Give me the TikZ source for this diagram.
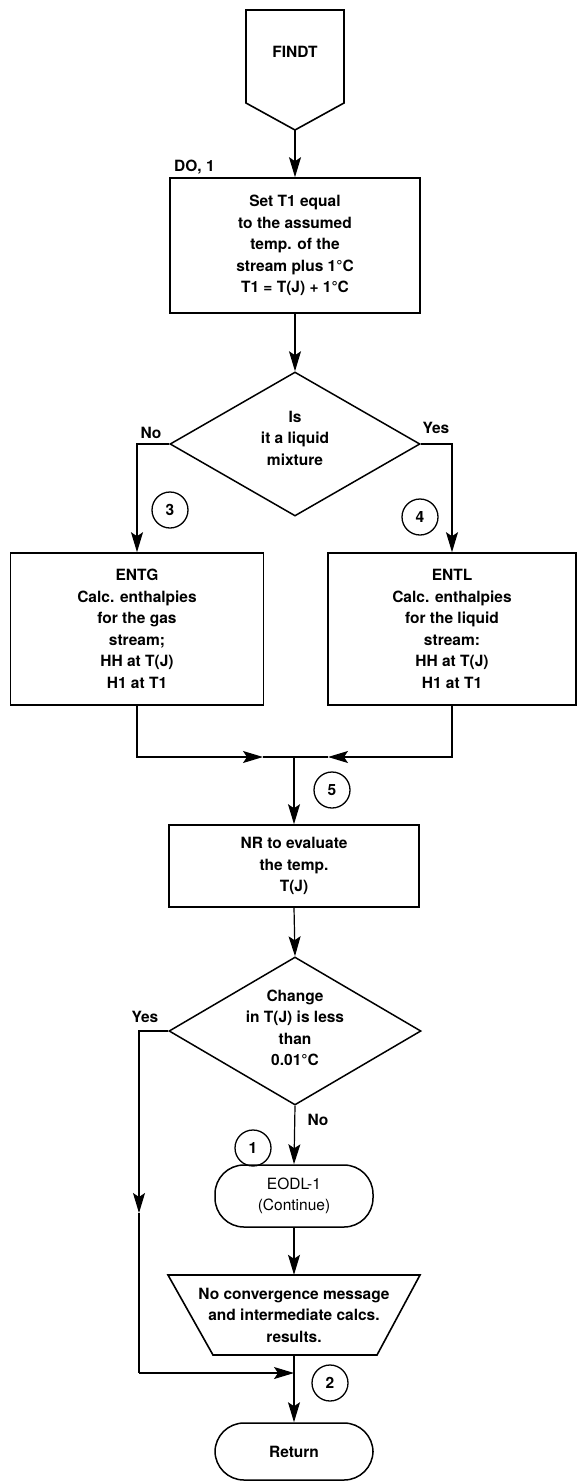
\documentclass[tikz,border=0pt]{standalone}
\usepackage{fontspec}
\setmainfont{TeX Gyre Heros}
\usetikzlibrary{shapes.geometric,arrows.meta}
\begin{document}
\begin{tikzpicture}[x=1pt,y=-1pt,
  every node/.style={font=\fontsize{15.5}{21.5}\selectfont\bfseries, align=center},
  box/.style={draw, line width=1.6pt, inner sep=0pt},
  flow/.style={line width=1.2pt},
  arr/.style={flow, -{Stealth[length=20pt,width=12pt,inset=4pt]}},
  conn/.style={circle, draw, line width=1.3pt, minimum size=36pt, inner sep=0pt},
  term/.style={draw, line width=1.5pt, rounded corners=29pt, minimum width=158pt, inner sep=0pt},
  decision/.style={diamond, draw, line width=1.5pt, inner sep=0pt},
  lbl/.style={inner sep=0pt}
]
\useasboundingbox (0,0) rectangle (576,1482);

% FINDT entry connector
\draw[line width=1.6pt] (246,10) -- (344,10) -- (344,103) -- (295,130) -- (246,103) -- cycle;
\node (findt) at (295,52) {FINDT};
\coordinate (findtip) at (295,130);

\node[lbl, anchor=base west] (do) at (174,172) {DO, 1};

\node[box, minimum width=250pt, minimum height=135pt] (set) at (295,245.5)
  {Set T1 equal\\to the assumed\\temp. of the\\stream plus 1°C\\T1 = T(J) + 1°C};

\node[decision, minimum width=250pt, minimum height=144pt] (q1) at (295,444) {};
\node (q1t) at (295,438) {Is\\it a liquid\\mixture};

\node[box, minimum width=253pt, minimum height=152pt] (entg) at (137,629)
  {ENTG\\Calc. enthalpies\\for the gas\\stream;\\HH at T(J)\\H1 at T1};
\node[box, minimum width=248pt, minimum height=152pt] (entl) at (452,629)
  {ENTL\\Calc. enthalpies\\for the liquid\\stream:\\HH at T(J)\\H1 at T1};

\node[box, minimum width=250pt, minimum height=82pt] (nr) at (294,866)
  {NR to evaluate\\the temp.\\T(J)};

\node[decision, minimum width=252pt, minimum height=148pt] (q2) at (295,1031) {};
\node (q2t) at (295,1028) {Change\\in T(J) is less\\than\\0.01°C};

\node[term, minimum height=62pt] (eodl) at (294,1196) {\mdseries EODL-1\\\mdseries (Continue)};

% output trapezoid
\draw[line width=1.6pt] (168,1275) -- (420,1275) -- (377,1355) -- (213,1355) -- cycle;
\node[inner sep=0pt, minimum width=252pt, minimum height=80pt] (tz) at (294,1315)
  {No convergence message\\and intermediate calcs.\\results.};

\node[term, minimum height=57pt] (ret) at (294,1451.5) {Return};

% connectors
\draw[arr] (findtip) -- (set.north);
\draw[arr] (set.south) -- (q1.north);

\coordinate (l1) at (137,444);
\coordinate (r1) at (452,444);
\draw[arr] (q1.west) -- (l1) -- (entg.north);
\draw[arr] (q1.east) -- (r1) -- (entl.north);

\coordinate (m) at (294,757);
\coordinate (ml) at (137,757);
\coordinate (mlt) at (263,757);
\coordinate (mr) at (452,757);
\coordinate (mrt) at (328,757);
\draw[arr] (entg.south) -- (ml) -- (mlt);
\draw[flow] (mlt) -- (m);
\draw[arr] (entl.south) -- (mr) -- (mrt);
\draw[flow] (mrt) -- (m);
\draw[arr] (m) -- (nr.north);

\draw[arr] (nr.south) -- (q2.north);

\coordinate (y1) at (139,1031);
\coordinate (y2) at (139,1213);
\coordinate (y3) at (139,1373);
\coordinate (j2) at (294,1373);
\draw[arr] (q2.west) -- (y1) -- (y2);
\draw[flow] (y2) -- (y3);
\draw[arr] (y3) -- (j2);

\draw[arr] (q2.south) -- (eodl.north);
\draw[arr] (eodl.south) -- (tz.north);
\draw[flow] (tz.south) -- (j2);
\draw[arr] (j2) -- (ret.north);

% labels
\node[lbl] (no1) at (151,433) {No};
\node[lbl] (yes1) at (436,428) {Yes};
\node[lbl] (yes2) at (145,1017) {Yes};
\node[lbl] (no2) at (318,1120) {No};

% connector circles
\node[conn] (c3) at (170,510) {3};
\node[conn] (c4) at (420,517) {4};
\node[conn] (c5) at (332,790) {5};
\node[conn] (c1) at (253,1148) {1};
\node[conn] (c2) at (330,1383) {2};
\end{tikzpicture}
\end{document}
